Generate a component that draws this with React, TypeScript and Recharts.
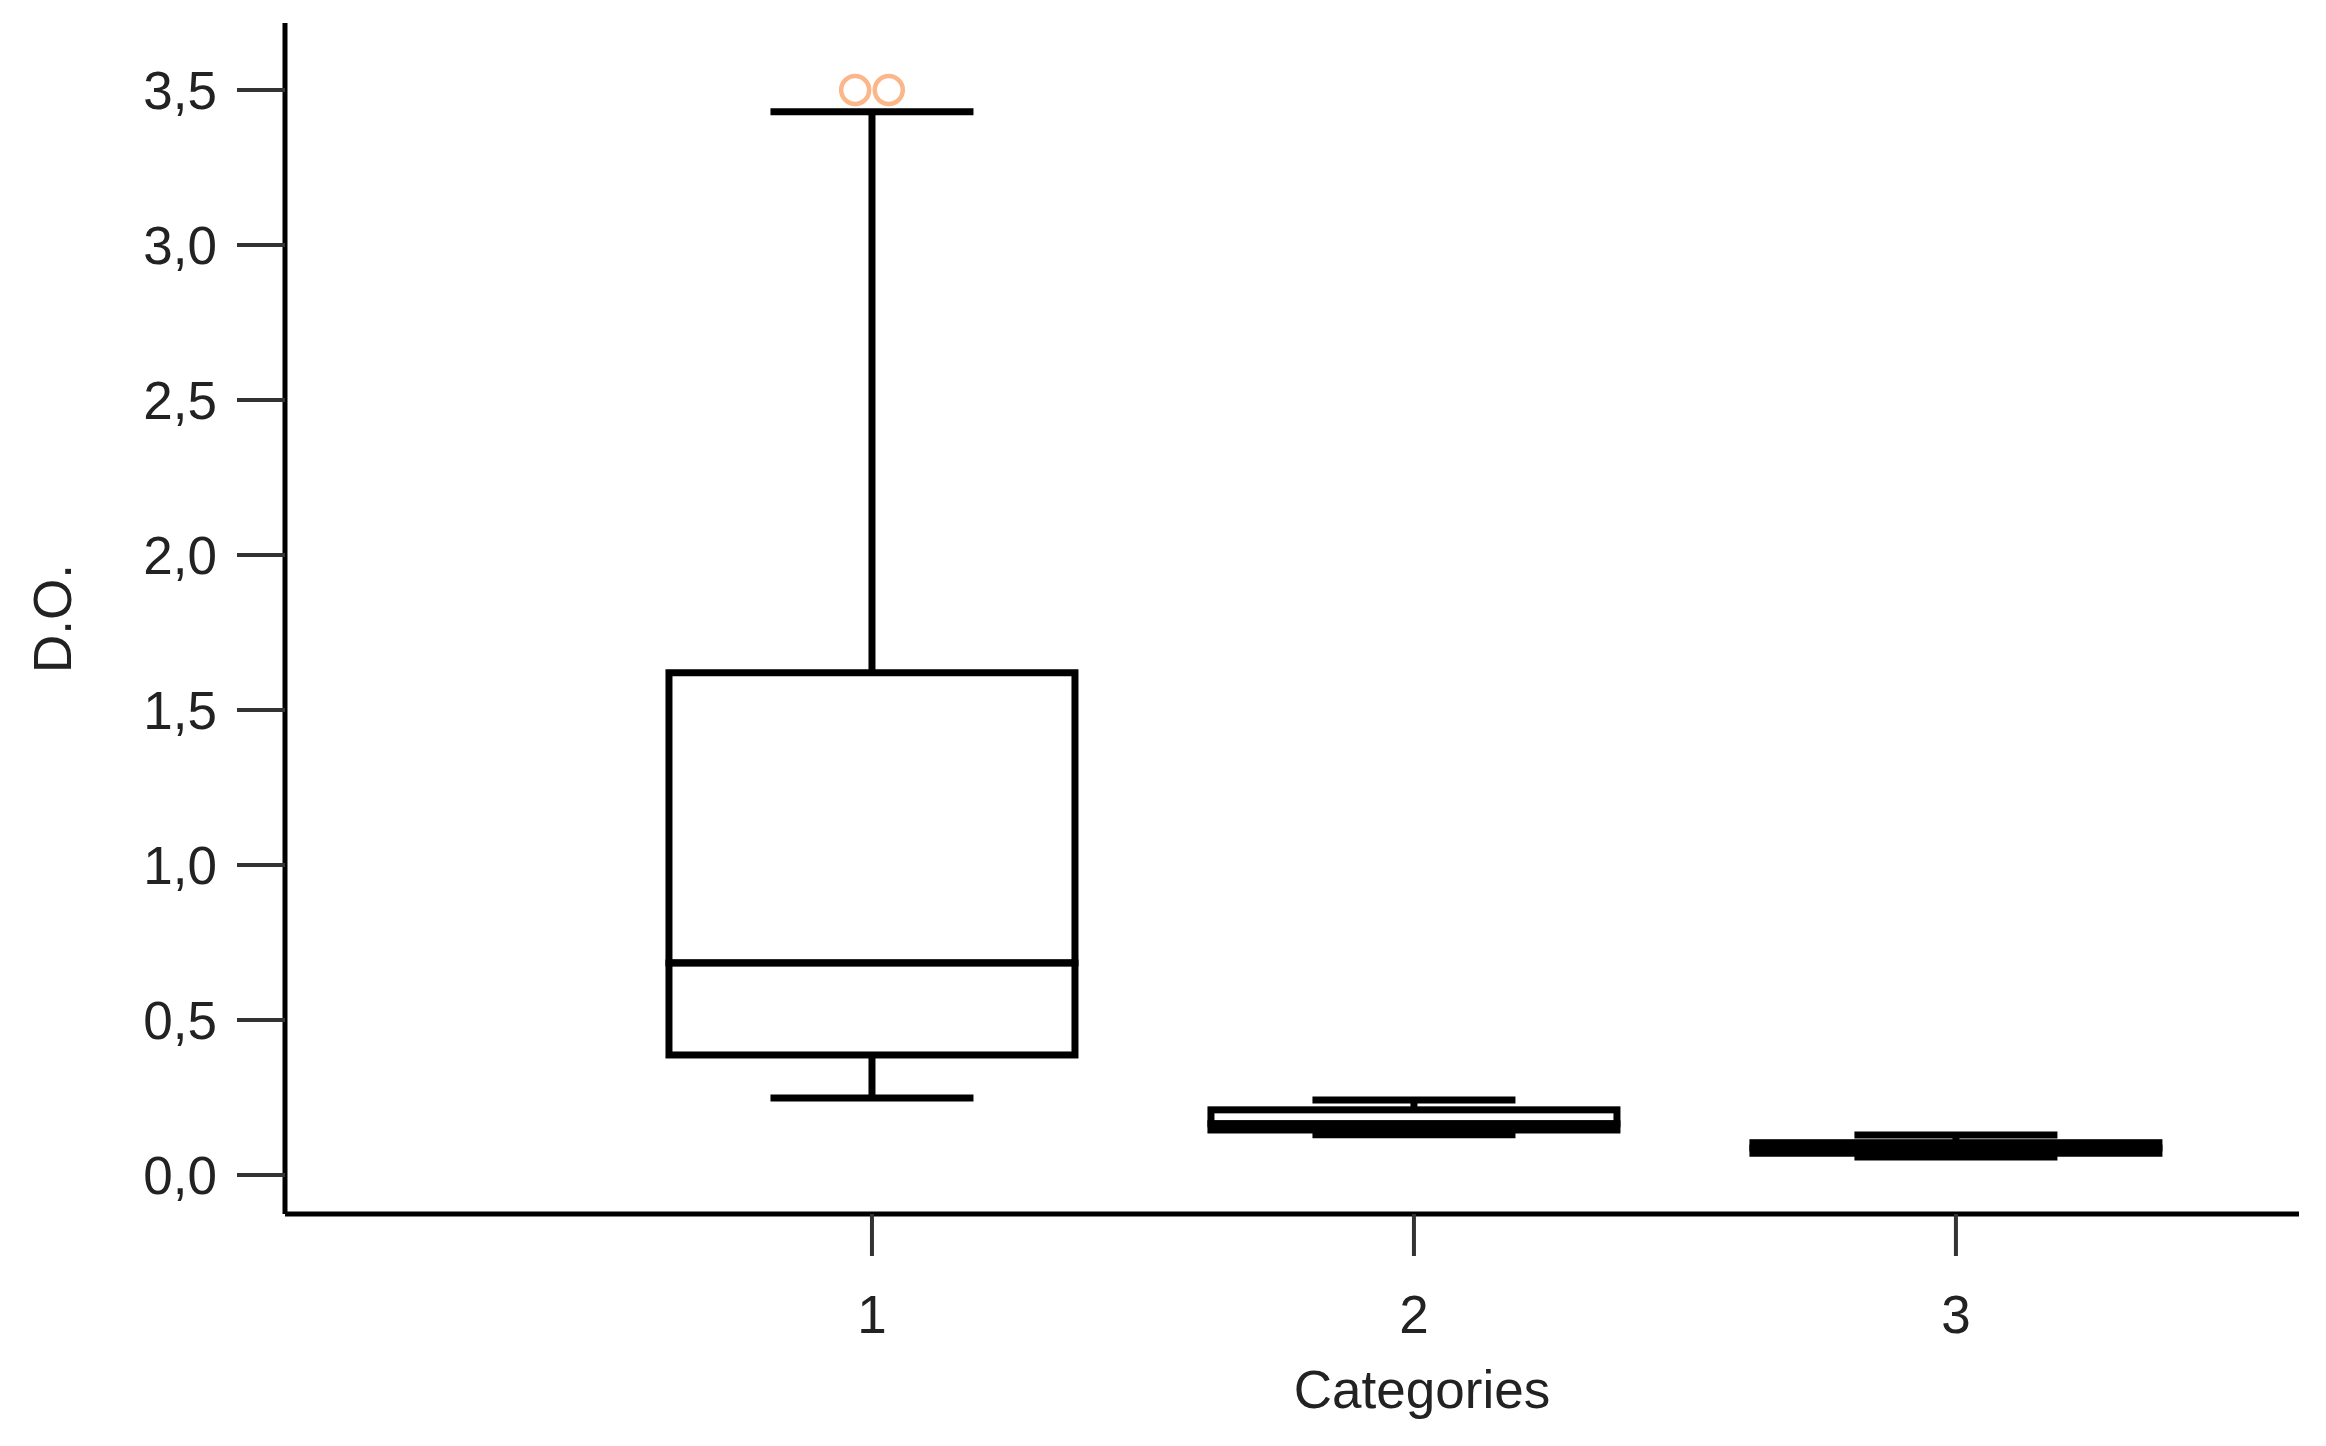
import React from 'react'
import { ComposedChart, Bar, Scatter, XAxis, YAxis } from 'recharts'

// box plot summary per category (D.O.)
const categories = [1, 2, 3]
const mins = [0.248, 0.13, 0.058]
const q1s = [0.387, 0.145, 0.07]
const medians = [0.684, 0.165, 0.087]
const q3s = [1.62, 0.21, 0.104]
const maxs = [3.43, 0.242, 0.129]

// outliers (category + small horizontal jitter)
const outlierCats = [1, 1]
const outlierJitter = [-0.031, 0.031]
const outlierValues = [3.5, 3.5]

const yTicks = [0, 0.5, 1, 1.5, 2, 2.5, 3, 3.5]
const xTicks = [1, 2, 3]
const X_DOMAIN: [number, number] = [-0.083, 3.633]

const data = categories.map((c, i) => ({
  cat: c,
  base: mins[i],
  lowW: q1s[i] - mins[i],
  lowBox: medians[i] - q1s[i],
  upBox: q3s[i] - medians[i],
  upW: maxs[i] - q3s[i],
}))

const outlierData = outlierCats.map((c, i) => ({ pos: c + outlierJitter[i], val: outlierValues[i] }))

const FONT = '"Liberation Sans", Arial, sans-serif'
const SW = 7

const Empty = () => <g />

const whisker = (top: boolean) => (p: any) => {
  const { x, y, width, height } = p
  const cx = x + width / 2
  const capY = top ? y : y + height
  return (
    <g>
      <line x1={cx} x2={cx} y1={y} y2={y + height} stroke="#000" strokeWidth={SW} />
      <line x1={cx - width / 4} x2={cx + width / 4} y1={capY} y2={capY} stroke="#000" strokeWidth={SW} />
    </g>
  )
}

const BoxPart = (p: any) => (
  <rect x={p.x} y={p.y} width={p.width} height={p.height} fill="none" stroke="#000" strokeWidth={SW} />
)

const Outlier = (p: any) => (
  <circle cx={p.cx} cy={p.cy} r={14} fill="none" stroke="#FBB68A" strokeWidth={4.5} />
)

export default function App() {
  const tick = { fontSize: 53, fill: '#222', fontFamily: FONT }
  return (
    <div style={{ position: 'absolute', left: 0, top: 0, background: '#fff' }}>
      <ComposedChart width={2326} height={1446} data={data} margin={{ top: 23, right: 27, left: 0, bottom: 0 }}>
        <XAxis
          dataKey="cat"
          type="number"
          domain={X_DOMAIN}
          allowDataOverflow
          ticks={xTicks}
          height={232}
          tickSize={42}
          tickMargin={39}
          tick={tick}
          tickLine={{ stroke: '#333', strokeWidth: 4 }}
          axisLine={{ stroke: '#000', strokeWidth: 5 }}
          label={{ value: 'Categories', position: 'insideBottom', offset: 38, dx: 130, style: { fontSize: 53, fill: '#222', fontFamily: FONT } }}
        />
        <XAxis xAxisId="out" dataKey="pos" type="number" domain={X_DOMAIN} allowDataOverflow hide />
        <YAxis
          type="number"
          domain={[-0.126, 3.716]}
          allowDataOverflow
          ticks={yTicks}
          width={285}
          tickSize={48}
          tickMargin={20}
          tick={tick}
          tickFormatter={(v: number) => v.toFixed(1).replace('.', ',')}
          tickLine={{ stroke: '#333', strokeWidth: 4 }}
          axisLine={{ stroke: '#000', strokeWidth: 5 }}
          label={{ value: 'D.O.', angle: -90, position: 'insideLeft', offset: 52, style: { textAnchor: 'middle', fontSize: 53, fill: '#222', fontFamily: FONT } }}
        />
        <Bar dataKey="base" stackId="b" barSize={406} shape={Empty} isAnimationActive={false} />
        <Bar dataKey="lowW" stackId="b" barSize={406} shape={whisker(false)} isAnimationActive={false} />
        <Bar dataKey="lowBox" stackId="b" barSize={406} shape={BoxPart} isAnimationActive={false} />
        <Bar dataKey="upBox" stackId="b" barSize={406} shape={BoxPart} isAnimationActive={false} />
        <Bar dataKey="upW" stackId="b" barSize={406} shape={whisker(true)} isAnimationActive={false} />
        <Scatter xAxisId="out" data={outlierData} dataKey="val" shape={Outlier} isAnimationActive={false} />
      </ComposedChart>
    </div>
  )
}
